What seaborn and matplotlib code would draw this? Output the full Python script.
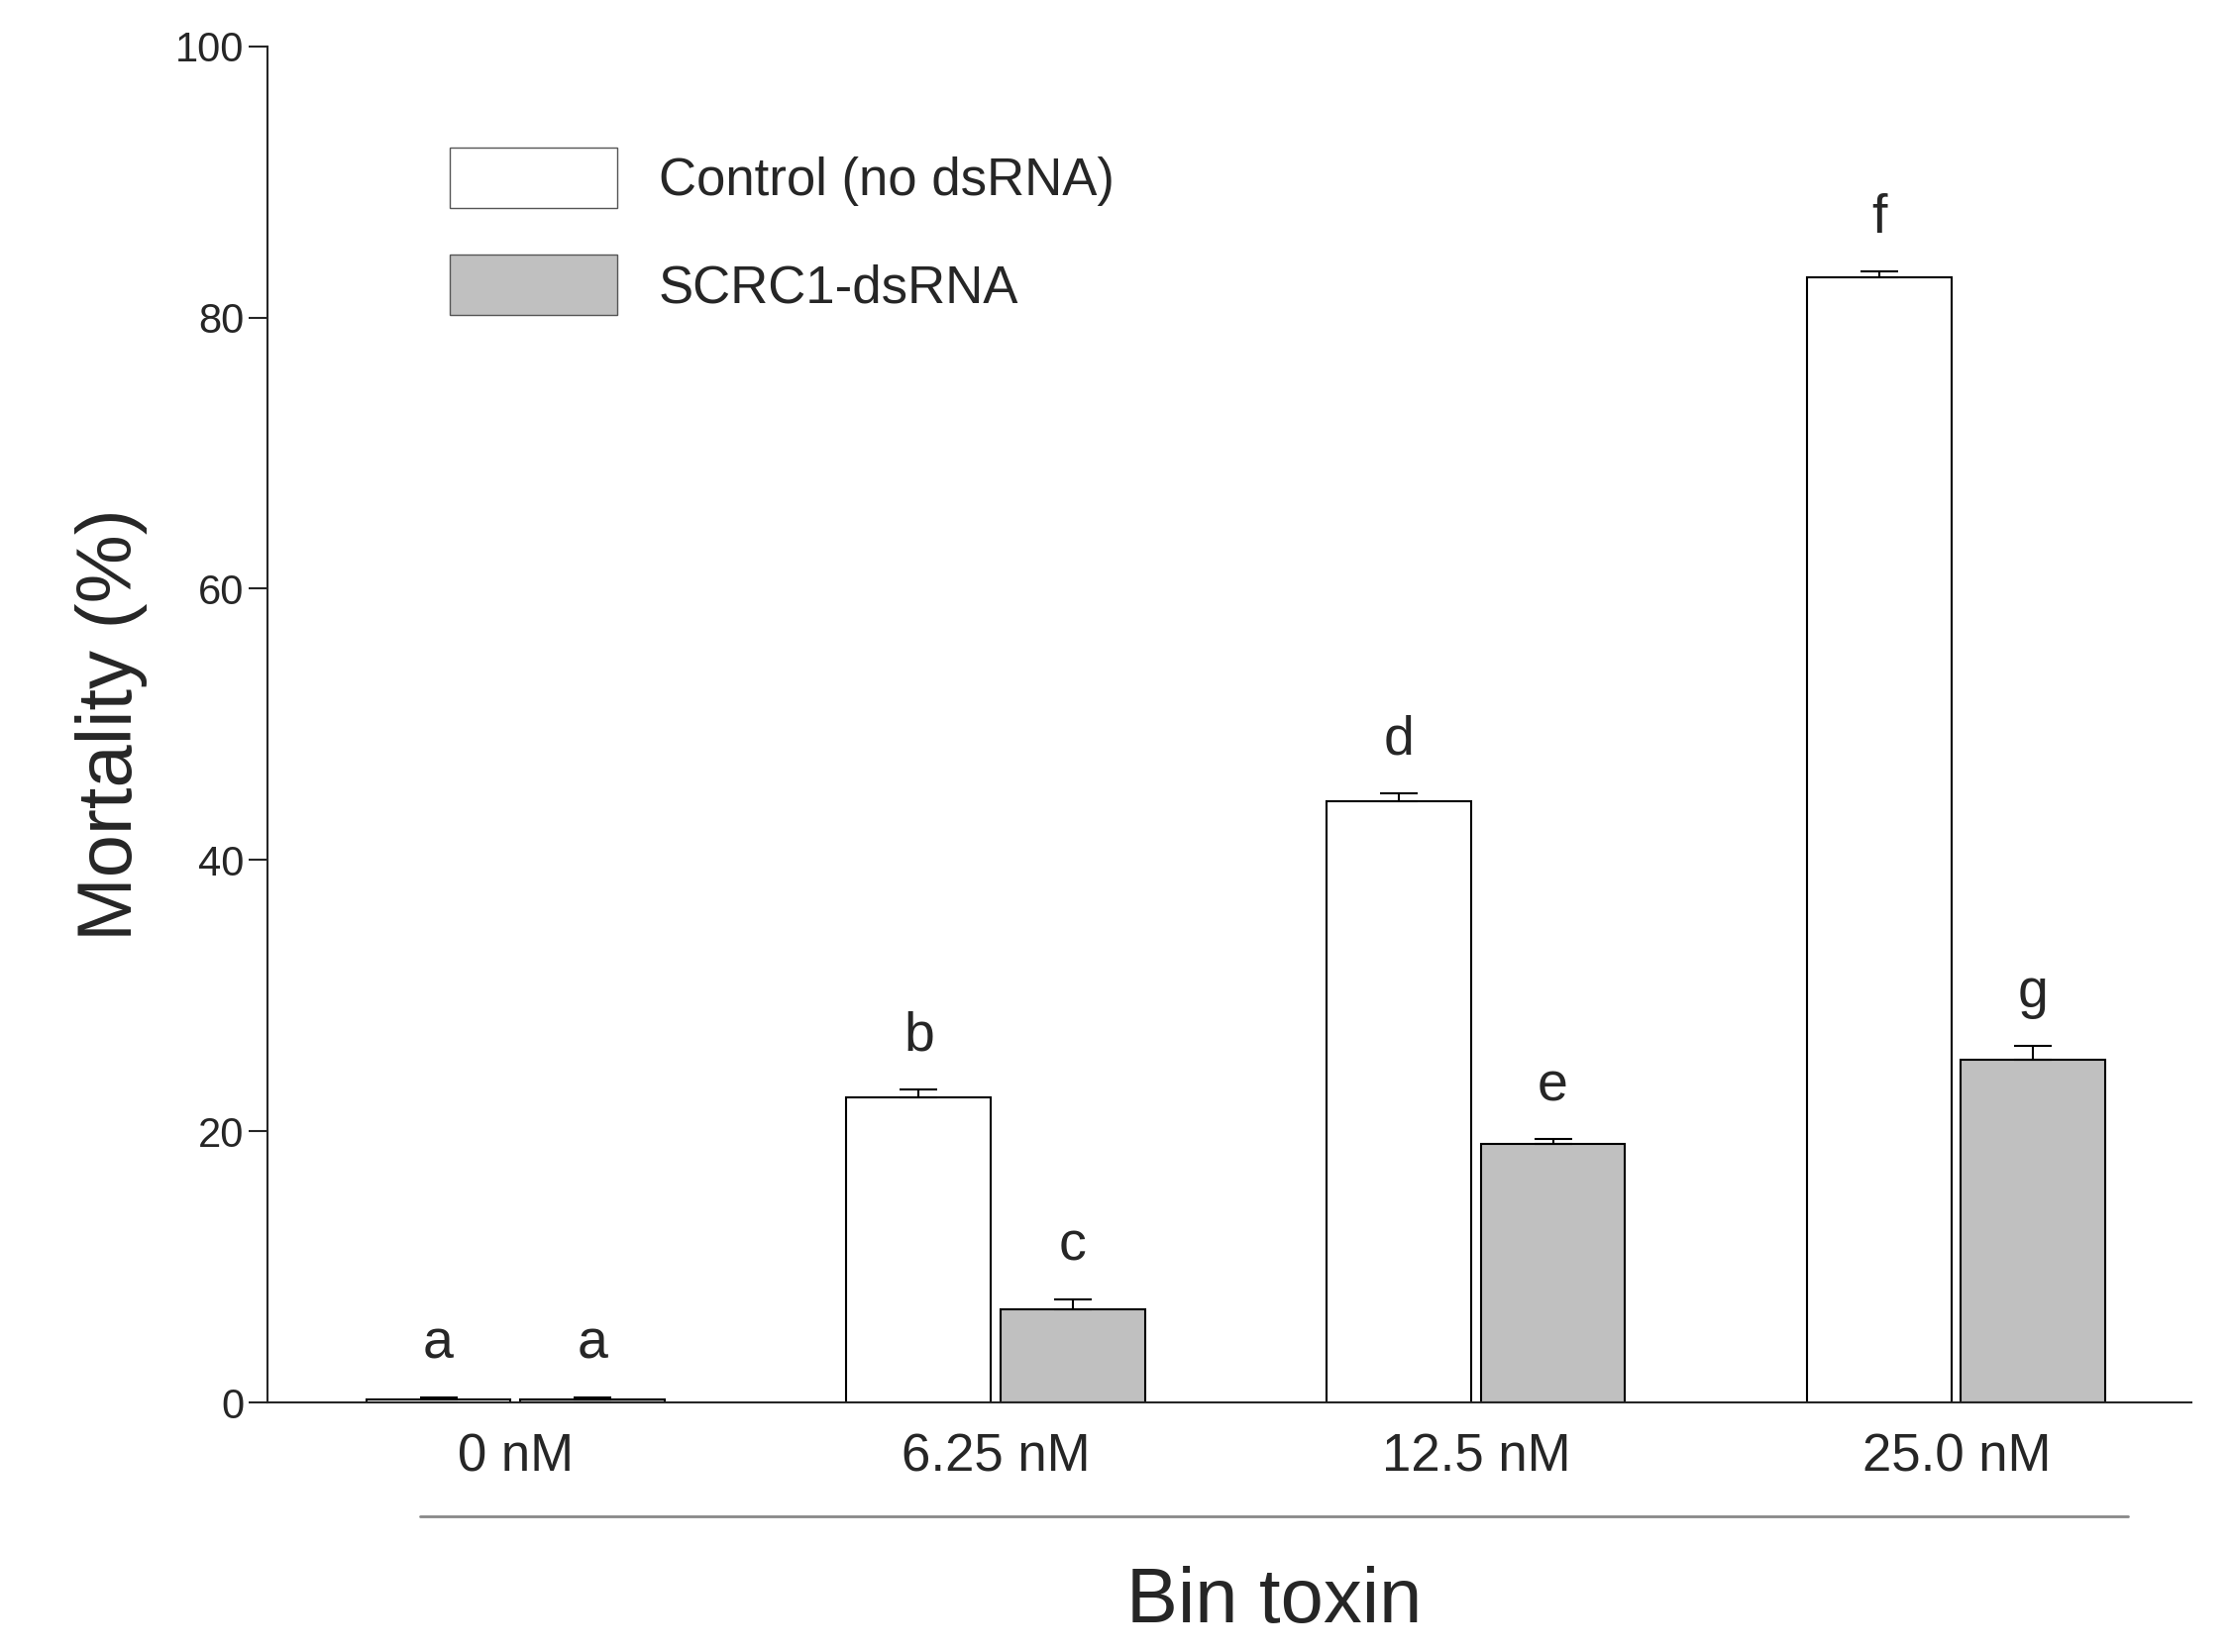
import numpy as np
import pandas as pd
import matplotlib.pyplot as plt
import seaborn as sns
from matplotlib.patches import Patch

doses = ['0 nM', '6.25 nM', '12.5 nM', '25.0 nM']
groups = ['Control (no dsRNA)', 'SCRC1-dsRNA']
control_mean = [0.2, 22.5, 44.3, 83.0]
control_err = [0.2, 0.6, 0.6, 0.4]
dsrna_mean = [0.2, 6.9, 19.1, 25.3]
dsrna_err = [0.2, 0.7, 0.3, 1.0]
control_letters = ['a', 'b', 'd', 'f']
dsrna_letters = ['a', 'c', 'e', 'g']

df = pd.DataFrame({
    'dose': doses * 2,
    'group': [groups[0]] * 4 + [groups[1]] * 4,
    'mortality': control_mean + dsrna_mean,
})

sns.set_style('ticks')
plt.rcParams['font.family'] = ['Liberation Sans', 'DejaVu Sans']

fig = plt.figure(figsize=(22.53, 16.68), dpi=100)
ax = fig.add_axes([0.12, 0.151, 0.862, 0.821])

colors = {groups[0]: 'white', groups[1]: '#c0c0c0'}
sns.barplot(data=df, x='dose', y='mortality', hue='group', order=doses,
            hue_order=groups, palette=colors, width=0.64, gap=0.06,
            edgecolor='black', linewidth=1.5, errorbar=None, legend=False, ax=ax)

for cont, means, errs, letters in zip(ax.containers, [control_mean, dsrna_mean],
                                      [control_err, dsrna_err],
                                      [control_letters, dsrna_letters]):
    xs = [p.get_x() + p.get_width() / 2 for p in cont.patches]
    ax.errorbar(xs, means, yerr=[np.zeros(4), errs], fmt='none', ecolor='black',
                elinewidth=1.5, capsize=14, capthick=1.5)
    for x, m, e, l in zip(xs, means, errs, letters):
        ax.text(x, m + e + 2.0, l, ha='center', va='bottom', fontsize=40)

ax.set_ylim(0, 100)
ax.set_xlim(-0.515, 3.49)
ax.set_yticks(range(0, 101, 20))
ax.tick_params(axis='y', labelsize=30, length=14, width=1.5)
ax.tick_params(axis='x', labelsize=38, length=0, pad=22)
ax.set_ylabel('Mortality (%)', fontsize=56, labelpad=20)
ax.set_xlabel('')
for s in ['top', 'right']:
    ax.spines[s].set_visible(False)
for s in ['left', 'bottom']:
    ax.spines[s].set_linewidth(1.5)

# grey line under the doses and the group label
fig.add_artist(plt.Line2D([295 / 1568, 1495 / 1568], [1 - 1065 / 1160] * 2,
                          color='#888888', lw=2))
fig.text(895 / 1568, 1 - 1125 / 1160, 'Bin toxin', ha='center', va='center', fontsize=56)

handles = [Patch(facecolor=colors[g], edgecolor='#555555', label=g) for g in groups]
ax.legend(handles=handles, loc='upper left', bbox_to_anchor=(0.07, 0.96), frameon=False,
          fontsize=38, handlelength=3.2, handleheight=1.4, labelspacing=0.9, handletextpad=0.8)

fig.savefig('out.png', dpi=100)
